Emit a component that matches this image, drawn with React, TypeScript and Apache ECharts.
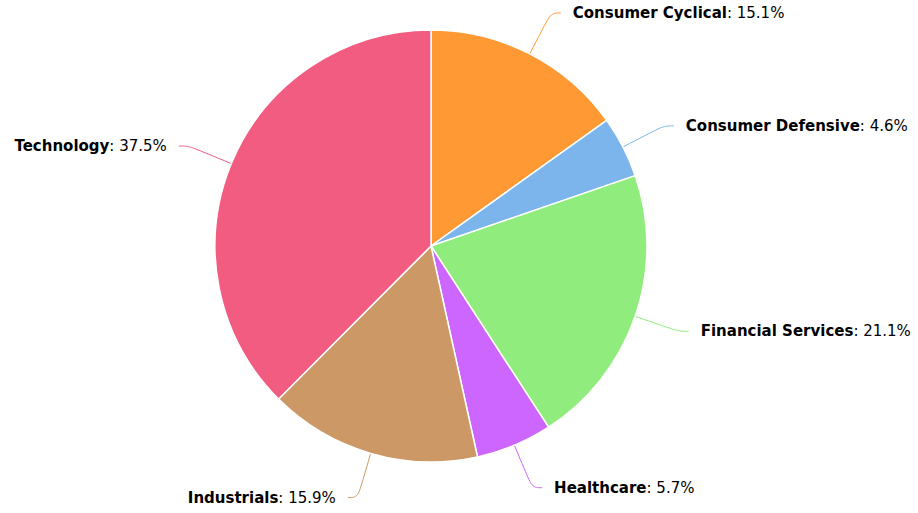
import React, { useEffect, useRef } from "react";
import * as echarts from "echarts";

const categories = ["Consumer Cyclical", "Consumer Defensive", "Financial Services", "Healthcare", "Industrials", "Technology"];
const values = [15.1, 4.6, 21.1, 5.7, 15.9, 37.5];
const colors = ["#FF9933", "#7CB5EC", "#90ED7D", "#CC66FF", "#CC9966", "#F15C80"];

export default function App() {
  const ref = useRef<HTMLDivElement>(null);
  useEffect(() => {
    document.body.style.margin = "0";
    if (!ref.current) return;
    const chart = echarts.init(ref.current, null, { renderer: "svg" });
    chart.setOption({
      animation: false,
      textStyle: { fontFamily: "DejaVu Sans, Verdana, sans-serif" },
      series: [
        {
          type: "pie",
          center: [431, 246],
          radius: 216,
          startAngle: 90,
          clockwise: true,
          data: categories.map((c, i) => ({ name: c, value: values[i], itemStyle: { color: colors[i] } })),
          itemStyle: { borderColor: "#ffffff", borderWidth: 1.5 },
          label: {
            show: true,
            overflow: "none",
            formatter: (p: any) => `{n|${p.name}}{v|: ${p.value.toFixed(1)}%}`,
            rich: {
              n: { fontWeight: "bold", fontSize: 15, color: "#000", fontFamily: "DejaVu Sans" },
              v: { fontSize: 15, color: "#000", fontFamily: "DejaVu Sans" },
            },
            distanceToLabelLine: 12,
          },
          labelLine: { show: true, length: 46, length2: 10, smooth: 0.4, lineStyle: { width: 1 } },
          emphasis: { disabled: true },
        },
      ],
    });
    return () => chart.dispose();
  }, []);
  return <div ref={ref} style={{ width: 918, height: 513 }} />;
}
